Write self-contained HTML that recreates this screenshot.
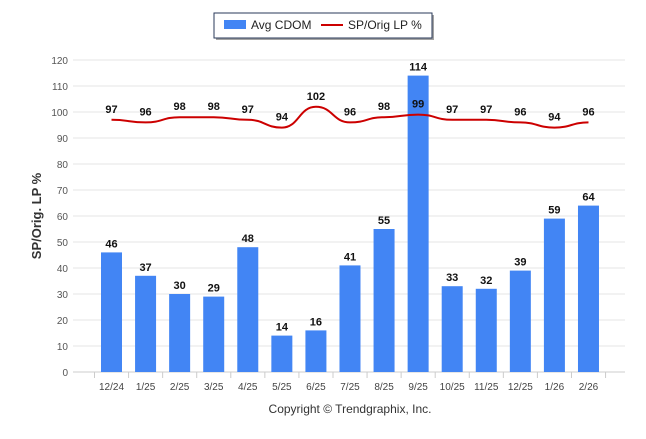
<!DOCTYPE html>
<html><head><meta charset="utf-8"><style>
body{margin:0;background:#fff;font-family:"Liberation Sans",sans-serif}
</style></head><body>
<svg id="c" width="646" height="434" xmlns="http://www.w3.org/2000/svg" font-family="Liberation Sans, sans-serif">
<g>
<rect x="216" y="15" width="218" height="25" fill="#666" opacity="0.6"/>
<rect x="214" y="13" width="218" height="25" fill="#fff" stroke="#2a3a5a" stroke-width="1"/>
<rect x="224" y="20" width="22" height="9" fill="#4285f4"/>
<text x="251" y="29" font-size="12" fill="#222">Avg CDOM</text>
<line x1="321" y1="25" x2="343" y2="25" stroke="#cc0000" stroke-width="2"/>
<text x="348" y="29" font-size="12" fill="#222">SP/Orig LP %</text>
</g>
<text transform="translate(41,216) rotate(-90)" text-anchor="middle" font-size="13" font-weight="bold" fill="#333">SP/Orig. LP %</text>
<text x="350" y="413" text-anchor="middle" font-size="12" fill="#333">Copyright © Trendgraphix, Inc.</text>
<g id="grid"></g><g id="bars"></g><g id="line"></g><g id="labels"></g>
</svg>
<script>
const categories=["12/24","1/25","2/25","3/25","4/25","5/25","6/25","7/25","8/25","9/25","10/25","11/25","12/25","1/26","2/26"];
const cdom=[46,37,30,29,48,14,16,41,55,114,33,32,39,59,64];
const splp=[97,96,98,98,97,94,102,96,98,99,97,97,96,94,96];
const yTicks=[0,10,20,30,40,50,60,70,80,90,100,110,120];
const NS="http://www.w3.org/2000/svg";
const y=v=>372-v*2.6;
const x=i=>111.5+i*34.07;
function mk(t,a,p){const e=document.createElementNS(NS,t);for(const k in a)e.setAttribute(k,a[k]);p.appendChild(e);return e;}
const grid=document.getElementById('grid'),bars=document.getElementById('bars'),line=document.getElementById('line'),labels=document.getElementById('labels');
yTicks.forEach(t=>{
 const l=mk('line',{x1:73,x2:625,y1:y(t),y2:y(t),stroke:t===0?'#ccc':'#e6e6e6','stroke-width':1},grid);
 
 
 const tx=mk('text',{x:68,y:y(t)+4,'text-anchor':'end','font-size':10,fill:'#555'},grid);
 tx.textContent=t;
 
 
});
for(let i=0;i<=categories.length;i++){
 mk('line',{x1:x(i)-17,x2:x(i)-17,y1:372,y2:378,stroke:'#ccc'},grid);
}
categories.forEach((c,i)=>{
 const r=mk('rect',{x:x(i)-10.5,y:y(cdom[i]),width:21,height:cdom[i]*2.6,fill:'#4285f4'},bars);
 
 
 const t=mk('text',{x:x(i),y:y(cdom[i])-5,'text-anchor':'middle','font-size':11,'font-weight':'bold',fill:'#111'},labels);
 t.textContent=cdom[i];
 
 
 const t2=mk('text',{x:x(i),y:y(splp[i])-7,'text-anchor':'middle','font-size':11,'font-weight':'bold',fill:'#111'},labels);
 t2.textContent=splp[i];
 
 
 const xl=mk('text',{x:x(i),y:390,'text-anchor':'middle','font-size':10,fill:'#444'},labels);
 xl.textContent=c;
 
 
});
let d='M'+x(0)+','+y(splp[0]);
for(let i=1;i<splp.length;i++){const x0=x(i-1),x1=x(i),m=(x0+x1)/2;d+=` C${m},${y(splp[i-1])} ${m},${y(splp[i])} ${x1},${y(splp[i])}`;}
const p=mk('path',{d:d,fill:'none',stroke:'#cc0000','stroke-width':2},line);


</script>
</body></html>
